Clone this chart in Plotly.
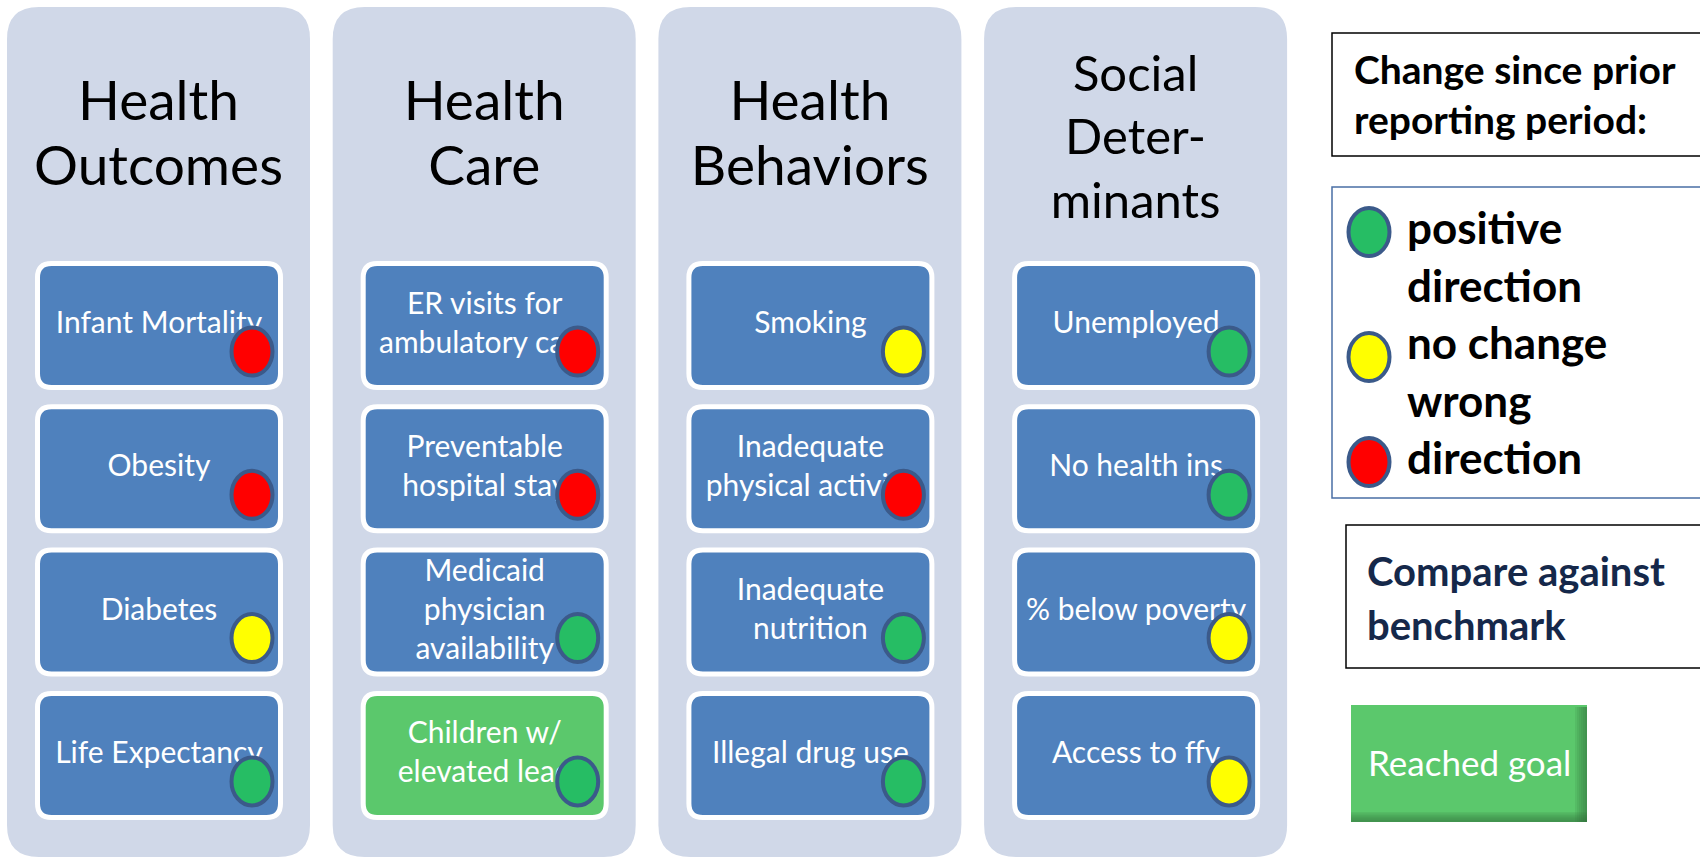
import plotly.graph_objects as go

# ---------------- data ----------------
category_titles = [["Health", "Outcomes"], ["Health", "Care"],
                   ["Health", "Behaviors"], ["Social", "Deter-", "minants"]]
measures = [
    ["Infant Mortality", "Obesity", "Diabetes", "Life Expectancy"],
    ["ER visits for<br>ambulatory care", "Preventable<br>hospital stay",
     "Medicaid<br>physician<br>availability", "Children w/<br>elevated lead"],
    ["Smoking", "Inadequate<br>physical activity", "Inadequate<br>nutrition", "Illegal drug use"],
    ["Unemployed", "No health ins", "% below poverty", "Access to ffv"],
]
change_status = [
    ["wrong", "wrong", "none", "positive"],
    ["wrong", "wrong", "positive", "positive"],
    ["none", "wrong", "positive", "positive"],
    ["positive", "positive", "none", "none"],
]
goal_reached = [
    [False, False, False, False],
    [False, False, False, True],
    [False, False, False, False],
    [False, False, False, False],
]
legend_title = ["Change since prior", "reporting period:"]
legend_lines = ["positive", "direction", "no change", "wrong", "direction"]
legend_keys = ["positive", "none", "wrong"]
benchmark_title = ["Compare against", "benchmark"]
goal_label = "Reached goal"

# ---------------- styles ----------------
STATUS_COLOR = {"positive": "#26bd64", "none": "#ffff00", "wrong": "#ff0000"}
PANEL_FILL = "#d0d8e8"
BOX_FILL = "#4f81bd"
GOAL_FILL = "#5bc86c"
DOT_LINE = "#3b5a8a"
FONT = "Lato"

W, H = 1700, 858
COL_LEFT0, COL_PITCH, PANEL_W = 7, 325.7, 303
PANEL_TOP, PANEL_BOTTOM, PANEL_R = 7, 857, 32
BOX_DX, BOX_W, BOX_H, BOX_TOP0, BOX_PITCH, BOX_R = 28, 248, 129, 261, 143.3, 14
DOT_W, DOT_H, DOT_DX, DOT_DY = 45, 52, 93, 26
TITLE_CY = 139


def rr_path(x0, y0, x1, y1, r):
    return (f"M {x0+r},{y0} L {x1-r},{y0} Q {x1},{y0} {x1},{y0+r} "
            f"L {x1},{y1-r} Q {x1},{y1} {x1-r},{y1} L {x0+r},{y1} "
            f"Q {x0},{y1} {x0},{y1-r} L {x0},{y0+r} Q {x0},{y0} {x0+r},{y0} Z")


def ellipse(cx, cy, fill, w=DOT_W, h=DOT_H, lw=4):
    return dict(type="circle", xref="x", yref="y", layer="above",
                x0=cx - w / 2 + lw / 2, x1=cx + w / 2 - lw / 2,
                y0=cy - h / 2 + lw / 2, y1=cy + h / 2 - lw / 2,
                fillcolor=fill, line=dict(color=DOT_LINE, width=lw))


fig = go.Figure()
shapes = []
annotations = []

for j, title in enumerate(category_titles):
    px0 = COL_LEFT0 + j * COL_PITCH
    cx = px0 + PANEL_W / 2
    shapes.append(dict(type="path", path=rr_path(px0, PANEL_TOP, px0 + PANEL_W, PANEL_BOTTOM, PANEL_R),
                       fillcolor=PANEL_FILL, line=dict(width=0), layer="below"))
    # title lines
    n = len(title)
    if n <= 2:
        ys = [TITLE_CY + (k - (n - 1) / 2) * 65 for k in range(n)]
        fig.add_trace(go.Scatter(x=[cx] * n, y=ys, mode="text", text=title,
                                 textposition="middle center",
                                 textfont=dict(family=FONT, size=55, color="black"),
                                 hoverinfo="skip", showlegend=False))
    else:
        fig.add_trace(go.Scatter(x=[cx], y=[TITLE_CY + 3], mode="text", text=["<br>".join(title)],
                                 textposition="middle center",
                                 textfont=dict(family=FONT, size=49, color="black"),
                                 hoverinfo="skip", showlegend=False))
    bx, by, bt = [], [], []
    for i, label in enumerate(measures[j]):
        x0 = px0 + BOX_DX
        y0 = BOX_TOP0 + i * BOX_PITCH
        fill = GOAL_FILL if goal_reached[j][i] else BOX_FILL
        shapes.append(dict(type="path", path=rr_path(x0 + 2.5, y0 + 2.5, x0 + BOX_W - 2.5, y0 + BOX_H - 2.5, BOX_R),
                           fillcolor=fill, line=dict(color="white", width=5), layer="below"))
        bcx, bcy = x0 + BOX_W / 2, y0 + BOX_H / 2
        bx.append(bcx)
        by.append(bcy)
        bt.append(label)
        shapes.append(ellipse(bcx + DOT_DX, bcy + DOT_DY, STATUS_COLOR[change_status[j][i]]))
    fig.add_trace(go.Scatter(x=bx, y=by, mode="text", text=bt, textposition="middle center",
                             textfont=dict(family=FONT, size=30, color="white"),
                             hoverinfo="skip", showlegend=False))

# ---------------- right-hand legend ----------------
LX0, LX1 = 1332, 1712
shapes.append(dict(type="rect", x0=LX0, x1=LX1, y0=33, y1=156, line=dict(color="black", width=1.5),
                   fillcolor="white", layer="below"))
for k, t in enumerate(legend_title):
    annotations.append(dict(x=1352, y=69 + k * 50, xref="x", yref="y", text=f"<b>{t}</b>",
                            showarrow=False, xanchor="left", yanchor="middle",
                            font=dict(family=FONT, size=39, color="black")))

shapes.append(dict(type="rect", x0=LX0, x1=LX1, y0=187, y1=498, line=dict(color="#4a6fa5", width=1.5),
                   fillcolor="white", layer="below"))
line_cy = [227 + k * 57.5 for k in range(len(legend_lines))]
for k, t in enumerate(legend_lines):
    annotations.append(dict(x=1405, y=line_cy[k], xref="x", yref="y", text=f"<b>{t}</b>",
                            showarrow=False, xanchor="left", yanchor="middle",
                            font=dict(family=FONT, size=44, color="black")))
for k, key in enumerate(legend_keys):
    shapes.append(ellipse(1369, line_cy[2 * k] + 5 + (10 if key == "none" else 0), STATUS_COLOR[key]))

shapes.append(dict(type="rect", x0=1346, x1=LX1, y0=525, y1=668, line=dict(color="black", width=1.5),
                   fillcolor="white", layer="below"))
for k, t in enumerate(benchmark_title):
    annotations.append(dict(x=1365, y=571 + k * 54, xref="x", yref="y", text=f"<b>{t}</b>",
                            showarrow=False, xanchor="left", yanchor="middle",
                            font=dict(family=FONT, size=40, color="#15284a")))

# reached goal button with shaded right/bottom edges
gx0, gx1, gy0, gy1 = 1351, 1587, 705, 822
shapes.append(dict(type="rect", x0=gx0, x1=gx1, y0=gy0, y1=gy1, fillcolor=GOAL_FILL,
                   line=dict(width=0), layer="below"))
for s in range(6):
    shapes.append(dict(type="rect", x0=gx1 - 12 + s * 2, x1=gx1, y0=gy0 + 2, y1=gy1,
                       fillcolor="#2f6b3a", opacity=0.12, line=dict(width=0), layer="below"))
    shapes.append(dict(type="rect", x0=gx0, x1=gx1, y0=gy1 - 10 + s * 1.6, y1=gy1,
                       fillcolor="#2f6b3a", opacity=0.12, line=dict(width=0), layer="below"))
annotations.append(dict(x=1366, y=762, xref="x", yref="y", text=goal_label, showarrow=False,
                        xanchor="left", yanchor="middle",
                        font=dict(family=FONT, size=35, color="white")))

fig.update_layout(
    width=W, height=H, margin=dict(l=0, r=0, t=0, b=0),
    paper_bgcolor="white", plot_bgcolor="white",
    xaxis=dict(range=[0, W], visible=False, fixedrange=True),
    yaxis=dict(range=[H, 0], visible=False, fixedrange=True),
    shapes=shapes, annotations=annotations, showlegend=False,
)
fig.write_html("out.html", config={"displayModeBar": False},
               post_script="document.body.style.margin='0px';document.body.style.overflow='hidden';")
